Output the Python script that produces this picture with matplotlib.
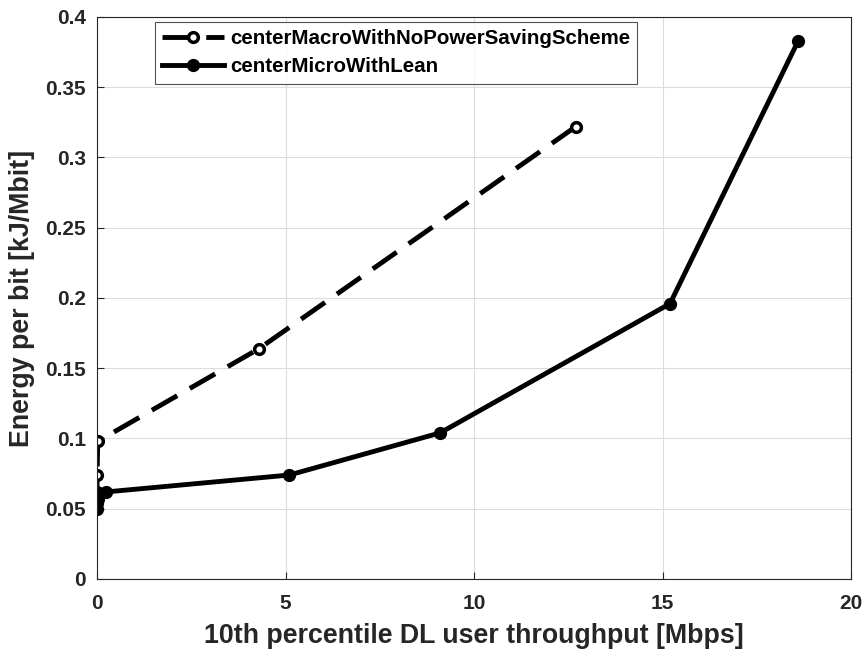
import matplotlib
matplotlib.use('Agg')
import matplotlib.pyplot as plt

plt.rcParams['font.family'] = ['Liberation Sans', 'DejaVu Sans']
plt.rcParams['font.weight'] = 'bold'

# centerMacroWithNoPowerSavingScheme
macro_x = [12.7, 4.3, 0.02, 0.0, 0.0]
macro_y = [0.322, 0.164, 0.098, 0.074, 0.062]

# centerMicroWithLean
micro_x = [18.6, 15.2, 9.1, 5.1, 0.25, 0.05, 0.02, 0.0, 0.0]
micro_y = [0.383, 0.196, 0.104, 0.074, 0.062, 0.060, 0.057, 0.054, 0.050]

x_ticks = [0, 5, 10, 15, 20]
y_ticks = [0, 0.05, 0.1, 0.15, 0.2, 0.25, 0.3, 0.35, 0.4]
y_labels = ['0', '0.05', '0.1', '0.15', '0.2', '0.25', '0.3', '0.35', '0.4']

fig = plt.figure(figsize=(8.68, 6.51), dpi=100)
ax = fig.add_axes([0.1118, 0.1106, 0.8686, 0.8633])

ax.plot(macro_x, macro_y, color='k', linewidth=3.5, linestyle=(0, (6, 3)),
        marker='o', markersize=7, markeredgewidth=2.5, markerfacecolor='white',
        label='centerMacroWithNoPowerSavingScheme')
ax.plot(micro_x, micro_y, color='k', linewidth=3.5, linestyle='-',
        marker='o', markersize=7, markeredgewidth=2.5, markerfacecolor='k',
        label='centerMicroWithLean')

ax.set_xlim(0, 20)
ax.set_ylim(0, 0.4)
ax.set_xticks(x_ticks)
ax.set_yticks(y_ticks)
ax.set_yticklabels(y_labels)
ax.tick_params(direction='in', labelsize=15, colors='#262626', length=5, pad=8)
ax.tick_params(axis='x', pad=11)
for lbl in ax.get_xticklabels() + ax.get_yticklabels():
    lbl.set_fontweight('bold')
    lbl.set_color('#262626')
for s in ax.spines.values():
    s.set_color('#262626')
    s.set_linewidth(0.8)

ax.grid(True, color='#dcdcdc', linewidth=0.8)
ax.set_axisbelow(True)

ax.set_xlabel('10th percentile DL user throughput [Mbps]', fontsize=19.3,
              fontweight='bold', color='#262626', labelpad=7)
ax.set_ylabel('Energy per bit [kJ/Mbit]', fontsize=19.3, fontweight='bold',
              color='#262626', labelpad=7)

leg = ax.legend(loc='upper left', bbox_to_anchor=(0.077, 0.991), fontsize=14.8,
                frameon=True, fancybox=False, edgecolor='#262626',
                handlelength=3, handletextpad=0.3, borderpad=0.35,
                labelspacing=0.45, borderaxespad=0)
leg.get_frame().set_linewidth(0.8)
for t in leg.get_texts():
    t.set_fontweight('bold')

fig.savefig('out.png', dpi=100)
